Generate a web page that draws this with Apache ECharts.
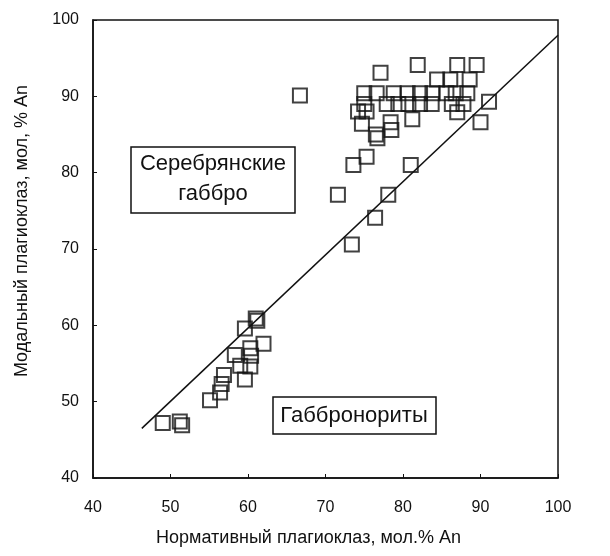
<!DOCTYPE html>
<html>
<head>
<meta charset="utf-8">
<script src="https://cdn.jsdelivr.net/npm/echarts@6/dist/echarts.min.js"></script>
<style>
  html, body { margin: 0; padding: 0; background: #fff; }
  #plag { width: 610px; height: 556px; }
</style>
</head>
<body>
<div id="plag"></div>
<script>
// normative An (x) vs modal An (y)
const normAn = [
  49.0, 51.2, 51.5, 55.1, 56.4, 56.6, 56.9, 58.3, 59.0, 59.6, 60.3, 60.3, 60.4, 62.0, 59.6, 61.0, 61.2,
  66.7, 71.6, 73.4, 76.4, 78.1, 73.6, 75.3, 81.0,
  77.1, 81.9, 87.0, 89.5, 84.4, 86.1, 88.6,
  75.0, 76.6, 78.8, 80.6, 82.2, 83.8, 85.6, 86.8, 88.3,
  75.0, 77.9, 79.4, 80.7, 82.2, 83.7, 86.3, 87.8,
  74.2, 75.3, 74.7, 78.4, 78.5, 81.2, 76.5, 76.7, 87.0, 91.1, 90.0
];
const modalAn = [
  47.2, 47.4, 46.9, 50.2, 51.2, 52.3, 53.5, 56.1, 54.7, 52.9, 54.6, 57.0, 56.0, 57.6, 59.6, 60.9, 60.6,
  90.1, 77.1, 70.6, 74.1, 77.1, 81.0, 82.1, 81.0,
  93.1, 94.1, 94.1, 94.1, 92.2, 92.2, 92.2,
  90.4, 90.4, 90.4, 90.4, 90.4, 90.4, 90.4, 90.4, 90.4,
  89.0, 89.0, 89.0, 89.0, 89.0, 89.0, 89.0, 89.0,
  88.0, 88.0, 86.4, 86.6, 85.6, 87.0, 85.0, 84.5, 87.9, 89.3, 86.6
];
// trend line end points
const lineX = [46.3, 100];
const lineY = [46.5, 98.0];

const xTicks = [40, 50, 60, 70, 80, 90, 100];
const yTicks = [40, 50, 60, 70, 80, 90, 100];

const ink = "#111";
const font = "'Liberation Sans', Arial, sans-serif";

const chart = echarts.init(document.getElementById("plag"));

const option = {
  animation: false,
  backgroundColor: "#fff",
  grid: {
    left: 93,
    right: 52,
    top: 20,
    bottom: 78,
    show: true,
    borderColor: ink,
    borderWidth: 1.5
  },
  xAxis: {
    type: "value",
    min: xTicks[0],
    max: xTicks[xTicks.length - 1],
    interval: 10,
    name: "Нормативный плагиоклаз, мол.% An",
    nameLocation: "middle",
    nameGap: 51,
    nameTextStyle: { color: ink, fontSize: 18, fontFamily: font, padding: [0, 34, 0, 0] },
    axisLine: { lineStyle: { color: ink, width: 1.5 } },
    axisTick: { inside: true, length: 4, lineStyle: { color: ink } },
    axisLabel: { color: ink, fontSize: 16, fontFamily: font, margin: 22 },
    splitLine: { show: false }
  },
  yAxis: {
    type: "value",
    min: yTicks[0],
    max: yTicks[yTicks.length - 1],
    interval: 10,
    name: "Модальный плагиоклаз, мол, % An",
    nameLocation: "middle",
    nameGap: 62,
    nameTextStyle: { color: ink, fontSize: 18, fontFamily: font, padding: [0, 0, 0, 36] },
    axisLine: { lineStyle: { color: ink, width: 1.5 } },
    axisTick: { inside: true, length: 4, lineStyle: { color: ink } },
    axisLabel: { color: ink, fontSize: 16, fontFamily: font, margin: 14 },
    splitLine: { show: false }
  },
  series: [
    {
      type: "line",
      data: lineX.map((x, i) => [x, lineY[i]]),
      symbol: "none",
      lineStyle: { color: ink, width: 1.5 },
      z: 1
    },
    {
      type: "scatter",
      data: normAn.map((x, i) => [x, modalAn[i]]),
      symbol: "rect",
      symbolSize: 14,
      itemStyle: { color: "rgba(0,0,0,0)", borderColor: ink, borderWidth: 2 },
      z: 2
    }
  ],
  graphic: [
    {
      type: "rect",
      shape: { x: 131, y: 147, width: 164, height: 66 },
      style: { fill: "#fff", stroke: ink, lineWidth: 1.5 },
      z: 10
    },
    {
      type: "text",
      x: 213, y: 179,
      style: {
        text: "Серебрянские\nгаббро",
        fill: ink, font: "22px " + font,
        align: "center", verticalAlign: "middle", lineHeight: 30
      },
      z: 11
    },
    {
      type: "rect",
      shape: { x: 273, y: 397, width: 163, height: 37 },
      style: { fill: "#fff", stroke: ink, lineWidth: 1.5 },
      z: 10
    },
    {
      type: "text",
      x: 354, y: 416,
      style: {
        text: "Габбронориты",
        fill: ink, font: "22px " + font,
        align: "center", verticalAlign: "middle"
      },
      z: 11
    }
  ]
};

chart.setOption(option);
</script>
</body>
</html>
